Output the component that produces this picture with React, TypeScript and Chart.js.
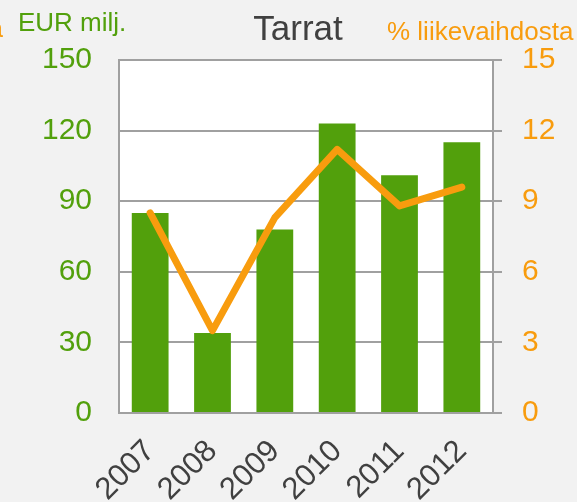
import React, { useEffect, useRef } from "react";
import { Chart, registerables } from "chart.js";

Chart.register(...registerables);

const years = ["2007", "2008", "2009", "2010", "2011", "2012"];
const eurMilj = [85, 34, 78, 123, 101, 115];
const pctLiikevaihdosta = [8.5, 3.5, 8.3, 11.2, 8.8, 9.6];
const leftTicks = [0, 30, 60, 90, 120, 150];
const rightTicks = [0, 3, 6, 9, 12, 15];

const FONT = "'Liberation Sans', Arial, sans-serif";
const GREEN = "#52A00C";
const ORANGE = "#F89C0E";
const GRAY = "#A0A0A0";
const DARK = "#404040";

const bgPlugin = {
  id: "bgPlugin",
  beforeDraw(chart: any) {
    const { ctx, chartArea } = chart;
    ctx.save();
    ctx.fillStyle = "#F2F2F2";
    ctx.fillRect(0, 0, chart.width, chart.height);
    ctx.fillStyle = "#FFFFFF";
    ctx.fillRect(chartArea.left, chartArea.top, chartArea.right - chartArea.left, chartArea.bottom - chartArea.top);
    ctx.restore();
  },
  afterDraw(chart: any) {
    const { ctx } = chart;
    ctx.save();
    ctx.textBaseline = "alphabetic";
    ctx.font = `26px ${FONT}`;
    ctx.fillStyle = ORANGE;
    ctx.textAlign = "right";
    ctx.fillText("% liikevaihdosta", 3, 37);
    ctx.textAlign = "left";
    ctx.fillStyle = GREEN;
    ctx.fillText("EUR milj.", 18, 31);
    ctx.fillStyle = ORANGE;
    ctx.fillText("% liikevaihdosta", 387, 40);
    ctx.font = `35px ${FONT}`;
    ctx.fillStyle = DARK;
    ctx.textAlign = "center";
    ctx.fillText("Tarrat", 298, 40);
    ctx.restore();
  },
};

export default function App() {
  const ref = useRef<HTMLCanvasElement | null>(null);
  useEffect(() => {
    document.body.style.margin = "0";
    if (!ref.current) return;
    const chart = new Chart(ref.current, {
      type: "bar",
      data: {
        labels: years,
        datasets: [
          {
            type: "line",
            label: "% liikevaihdosta",
            data: pctLiikevaihdosta,
            yAxisID: "y1",
            borderColor: ORANGE,
            borderWidth: 7,
            borderCapStyle: "round",
            borderJoinStyle: "round",
            pointRadius: 0,
            fill: false,
            tension: 0,
            order: 0,
          } as any,
          {
            type: "bar",
            label: "EUR milj.",
            data: eurMilj,
            yAxisID: "y",
            backgroundColor: GREEN,
            barPercentage: 0.59,
            categoryPercentage: 1,
            order: 1,
          } as any,
        ],
      },
      options: {
        animation: false,
        responsive: true,
        maintainAspectRatio: false,
        layout: { padding: { top: 60, left: 0, right: 0, bottom: 0 } },
        plugins: {
          legend: { display: false },
          title: { display: false },
          tooltip: { enabled: false },
        },
        scales: {
          x: {
            grid: { display: false },
            border: { display: true, color: GRAY, width: 2 },
            ticks: {
              color: DARK,
              font: { family: FONT, size: 31 },
              minRotation: 45,
              maxRotation: 45,
              padding: 12,
            },
            afterFit(scale: any) {
              scale.height = 89;
            },
          },
          y: {
            position: "left",
            min: 0,
            max: 150,
            afterBuildTicks(scale: any) {
              scale.ticks = leftTicks.map((v) => ({ value: v }));
            },
            grid: { color: GRAY, lineWidth: 2, drawTicks: false },
            border: { display: true, color: GRAY, width: 2 },
            ticks: {
              color: GREEN,
              font: { family: FONT, size: 30 },
              padding: 27,
            },
            afterFit(scale: any) {
              scale.width = 119;
            },
          },
          y1: {
            position: "right",
            min: 0,
            max: 15,
            afterBuildTicks(scale: any) {
              scale.ticks = rightTicks.map((v) => ({ value: v }));
            },
            grid: { color: GRAY, lineWidth: 2, drawOnChartArea: false, drawTicks: true, tickLength: 9 },
            border: { display: true, color: GRAY, width: 2 },
            ticks: {
              color: ORANGE,
              font: { family: FONT, size: 30 },
              padding: 20,
            },
            afterFit(scale: any) {
              scale.width = 84;
            },
          },
        },
      } as any,
      plugins: [bgPlugin],
    });
    return () => chart.destroy();
  }, []);
  return (
    <div style={{ width: 577, height: 502, position: "relative" }}>
      <canvas ref={ref} />
    </div>
  );
}
